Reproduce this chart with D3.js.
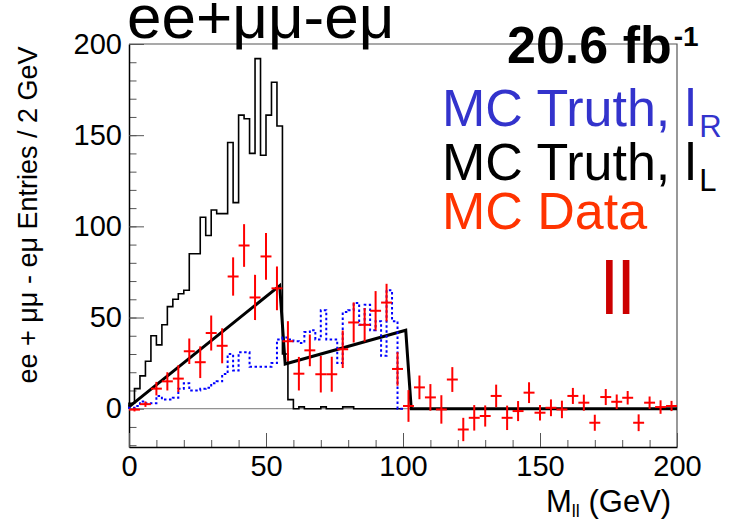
<!DOCTYPE html>
<html>
<head>
<meta charset="utf-8">
<script src="https://cdn.jsdelivr.net/npm/d3@7"></script>
<style>
  body { margin: 0; background: #fff; }
  text { font-family: "Liberation Sans", Arial, sans-serif; }
</style>
</head>
<body>
<div id="chart"></div>
<script>
// histogram bins are 2 GeV wide, starting at 0
const binLow = [0, 2, 4, 6, 8, 10, 12, 14, 16, 18, 20, 22, 24, 26, 28, 30, 32, 34, 36, 38,
  40, 42, 44, 46, 48, 50, 52, 54, 56, 58, 60, 62, 64, 66, 68, 70, 72, 74, 76, 78,
  80, 82, 84, 86, 88, 90, 92, 94, 96, 98];

// MC truth, l_L (black solid)
const truthL = [3, 11, 18, 26, 40, 35, 46, 56, 60, 63,
  65, 85, 85, 105, 95, 109, 107, 107, 146, 113,
  161, 159, 140, 192, 139, 161, 179, 155, 30, 5,
  0, 1, 0, 0, 0, 1, 0, 0, 0, 1,
  1, 0, 0, 0, 0, 0, 0, 0, 0, 0];

// MC truth, l_R (blue dotted)
const truthR = [0.5, 1.5, 4, 3, 3, 7, 5, 5, 6, 11,
  14, 10, 10, 11, 11.5, 14, 15, 19, 30, 21,
  31, 31, 23, 23, 23, 23, 25, 38, 39, 38,
  37, 36, 42, 43, 38, 54, 38, 38, 25, 53,
  54, 58, 46, 57, 43, 48, 29, 65, 48, 0];

// MC data points (4 GeV bins)
const dataX = [2, 6, 10, 14, 18, 22, 26, 30, 34, 38, 42, 46, 50, 54, 58, 62, 66, 70, 74, 78,
  82, 86, 90, 94, 98, 102, 106, 110, 114, 118, 122, 126, 130, 134, 138, 142, 146, 150, 154, 158,
  162, 166, 170, 174, 178, 182, 186, 190, 194, 198];
const dataY = [-0.5, 2.5, 11, 15, 16.5, 31.5, 25.5, 41.5, 34.5, 72.5,
  89.5, 61, 83.5, 66, 37, 19.2, 32, 18.9, 18.9, 32.6,
  47.3, 46, 53.7, 58.2, 21.8, 1.5, 11.7, 6.2, -0.4, 16,
  -11.4, -5, -4, 7, -5, -1.3, 8.8, -2.2, 0.5, -0.4,
  7, 3.3, -7.7, 6.4, 3.8, 6, -7.7, 3.3, 0.9, 1.5];
const dataErr = [1, 1.5, 3.7, 5, 7.3, 7, 8.7, 9.6, 9.6, 10.5,
  11.7, 12.4, 12.8, 12, 11, 9.2, 8.7, 10, 9.6, 10.3,
  11, 9.2, 10.8, 10.3, 9.2, 8.7, 6.5, 7.3, 7.8, 6.8,
  6.4, 7, 5.8, 6.2, 6.7, 5.5, 5.7, 4.2, 4.6, 4.8,
  4.4, 4.4, 4.4, 4.4, 4, 3.7, 4.6, 3.4, 3.7, 2.8];

// fitted edge shape (thick black)
const fitX = [0, 55, 57, 101, 103, 200];
const fitY = [1, 67.5, 24.5, 43, 0, 0];

const yMajor = [0, 50, 100, 150, 200];
const xMajor = [0, 50, 100, 150, 200];

const width = 731, height = 524;
const margin = { top: 44, right: 54, bottom: 77, left: 129 };

const svg = d3.select('#chart').append('svg')
  .attr('width', width)
  .attr('height', height);

const x = d3.scaleLinear().domain([0, 200]).range([margin.left, width - margin.right]);
const y = d3.scaleLinear().domain([-21, 200]).range([height - margin.bottom, margin.top]);

// frame (top + right)
svg.append('path')
  .attr('d', `M${x(0)},${y(200)}H${x(200)}V${y(-21)}`)
  .attr('fill', 'none').attr('stroke', '#555').attr('stroke-width', 1.2);

// minor ticks
svg.append('g')
  .attr('transform', `translate(${x(0)},0)`)
  .call(d3.axisLeft(y).tickValues(d3.range(-20, 201, 10)).tickSize(-7.5).tickFormat(''))
  .call(g => g.select('.domain').remove())
  .call(g => g.selectAll('line').attr('stroke', '#555'));
svg.append('g')
  .attr('transform', `translate(0,${y(-21)})`)
  .call(d3.axisBottom(x).tickValues(d3.range(0, 201, 10)).tickSize(-7).tickFormat(''))
  .call(g => g.select('.domain').remove())
  .call(g => g.selectAll('line').attr('stroke', '#555'));

// major ticks + labels
const yAxis = svg.append('g')
  .attr('transform', `translate(${x(0)},0)`)
  .call(d3.axisLeft(y).tickValues(yMajor).tickSize(-15).tickSizeOuter(0).tickPadding(7));
yAxis.selectAll('line').attr('stroke', '#555');
yAxis.select('.domain').attr('stroke', '#000').attr('stroke-width', 1.5);
yAxis.selectAll('text').attr('font-size', 29).attr('fill', '#000')
  .style('font-family', '"Liberation Sans", Arial, sans-serif');

const xAxis = svg.append('g')
  .attr('transform', `translate(0,${y(-21)})`)
  .call(d3.axisBottom(x).tickValues(xMajor).tickSize(-14).tickSizeOuter(0).tickPadding(8));
xAxis.selectAll('line').attr('stroke', '#555');
xAxis.select('.domain').attr('stroke', '#000').attr('stroke-width', 1.5);
xAxis.selectAll('text').attr('font-size', 29).attr('fill', '#000')
  .style('font-family', '"Liberation Sans", Arial, sans-serif');

// zero line
svg.append('line')
  .attr('x1', x(0)).attr('x2', x(200))
  .attr('y1', y(0)).attr('y2', y(0))
  .attr('stroke', '#777').attr('stroke-width', 1);

// histogram step path
function histPoints(vals) {
  const pts = [[0, 0]];
  vals.forEach((v, i) => { pts.push([binLow[i], v]); });
  const last = binLow[binLow.length - 1] + 2;
  pts.push([last, vals[vals.length - 1]]);
  pts.push([last, 0]);
  return pts;
}
const step = d3.line().x(d => x(d[0])).y(d => y(d[1])).curve(d3.curveStepAfter);

svg.append('path')
  .attr('d', step(histPoints(truthL)))
  .attr('fill', 'none').attr('stroke', '#000').attr('stroke-width', 1.6);

// fit line
const fitLine = d3.line().x(d => x(d[0])).y(d => y(d[1]));
svg.append('path')
  .attr('d', fitLine(fitX.map((v, i) => [v, fitY[i]])))
  .attr('fill', 'none').attr('stroke', '#000').attr('stroke-width', 3)
  .attr('stroke-linejoin', 'miter');

svg.append('path')
  .attr('d', step(histPoints(truthR)))
  .attr('fill', 'none').attr('stroke', '#0000ff').attr('stroke-width', 2)
  .attr('stroke-dasharray', '2.5,2.5');

// data points with error bars
const pts = svg.append('g').attr('stroke', '#ff0000').attr('stroke-width', 2);
dataX.forEach((cx, i) => {
  pts.append('line')
    .attr('x1', x(cx - 2)).attr('x2', x(cx + 2))
    .attr('y1', y(dataY[i])).attr('y2', y(dataY[i]));
  pts.append('line')
    .attr('x1', x(cx)).attr('x2', x(cx))
    .attr('y1', y(dataY[i] - dataErr[i])).attr('y2', y(dataY[i] + dataErr[i]));
});

// title
svg.append('text')
  .attr('x', 127).attr('y', 38)
  .attr('font-size', 62).attr('fill', '#000')
  .text('ee+μμ-eμ');

// luminosity
const lumi = svg.append('text')
  .attr('x', 507).attr('y', 63)
  .attr('font-size', 52).attr('font-weight', 'bold').attr('fill', '#000')
  .text('20.6 fb');
const lumiEnd = 507 + lumi.node().getComputedTextLength();
svg.append('text')
  .attr('x', lumiEnd + 2).attr('y', 46)
  .attr('font-size', 28).attr('font-weight', 'bold').attr('fill', '#000')
  .text('-1');

// legend
function legendLine(txt, sub, color, yb) {
  const t = svg.append('text')
    .attr('x', 442).attr('y', yb)
    .attr('font-size', 52).attr('fill', color)
    .text(txt);
  const end = 442 + t.node().getComputedTextLength();
  svg.append('text')
    .attr('x', end + 3).attr('y', yb + 11)
    .attr('font-size', 31).attr('fill', color)
    .text(sub);
}
legendLine('MC Truth, l', 'R', '#3333cc', 126);
legendLine('MC Truth, l', 'L', '#000000', 180);
svg.append('text')
  .attr('x', 442).attr('y', 229)
  .attr('font-size', 52).attr('fill', '#ff3300')
  .text('MC Data');

// the "ll" mark
svg.append('text')
  .attr('x', 601).attr('y', 314)
  .attr('font-size', 75).attr('fill', '#cc0000')
  .text('ll');

// axis titles
svg.append('text')
  .attr('transform', 'translate(37,215) rotate(-90)')
  .attr('text-anchor', 'middle')
  .attr('font-size', 27).attr('fill', '#000')
  .text('ee + μμ - eμ Entries / 2 GeV');

const xl = svg.append('text')
  .attr('x', 546).attr('y', 512)
  .attr('font-size', 31).attr('fill', '#000');
xl.append('tspan').text('M');
xl.append('tspan').attr('font-size', 18).attr('dy', 5).text('ll');
xl.append('tspan').attr('dy', -5).text(' (GeV)');
</script>
</body>
</html>
